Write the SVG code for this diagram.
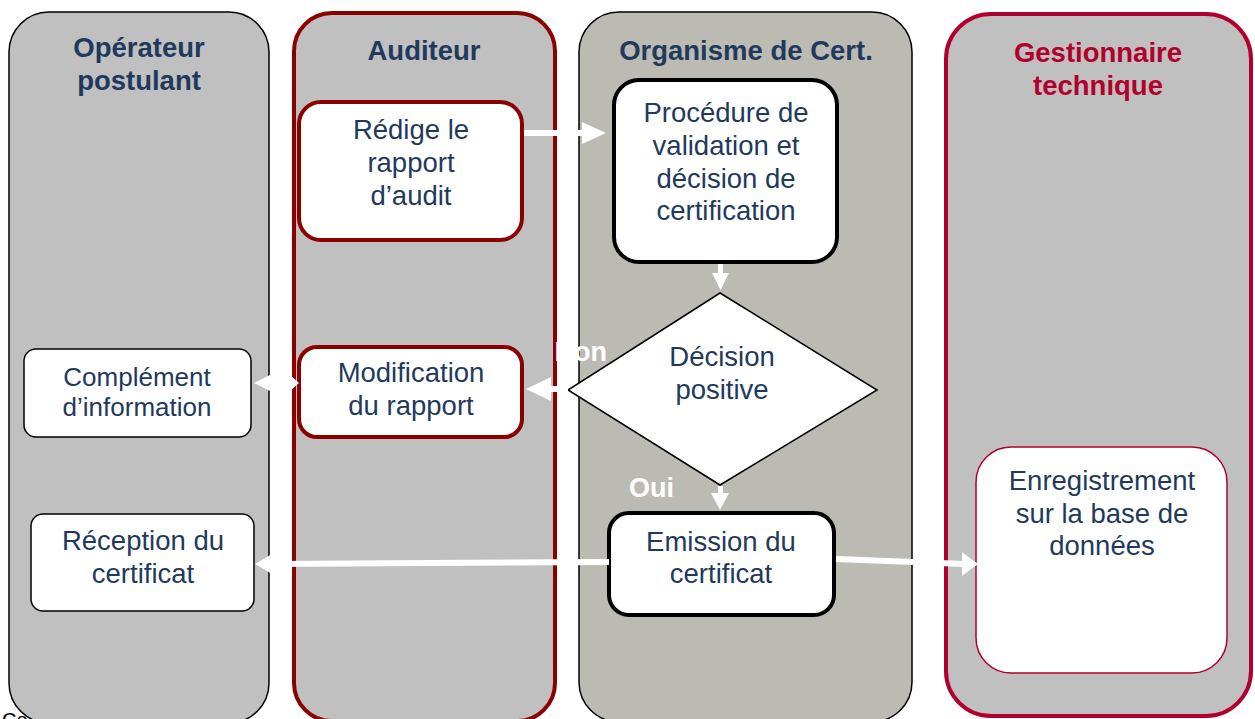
<svg xmlns="http://www.w3.org/2000/svg" width="1255" height="719" viewBox="0 0 1255 719">
  <style>
    .lane-grey { fill: #c0c0c0; }
    .lane-org { fill: #bcbbb3; }
    .b-black { stroke: #000000; stroke-width: 1.5; }
    .b-black-thick { stroke: #000000; stroke-width: 4; }
    .b-dred { stroke: #8b0000; stroke-width: 4; }
    .b-crim { stroke: #b2002c; stroke-width: 4; }
    .b-crim-thin { stroke: #b2002c; stroke-width: 1.5; }
    .node { fill: #ffffff; }
    .title { font-family: "Liberation Sans", Arial, sans-serif; font-size: 27.5px; font-weight: bold; fill: #1f3a5c; text-anchor: middle; }
    .title-red { fill: #b2002c; }
    .txt { font-family: "Liberation Sans", Arial, sans-serif; font-size: 27.5px; fill: #1f3a5c; text-anchor: middle; }
    .lbl { font-family: "Liberation Sans", Arial, sans-serif; font-size: 27px; font-weight: bold; fill: #ffffff; }
    .conn { stroke: #ffffff; fill: none; stroke-width: 6; }
    .head { fill: #ffffff; }
  </style>

  <text x="2" y="727" font-family="Liberation Sans, Arial, sans-serif" font-size="20" fill="#000000">Co</text>

  <g id="lane-operateur">
    <rect x="9" y="12" width="260" height="711" rx="40" ry="40" class="lane-grey b-black"/>
    <text class="title" x="139" y="57">Opérateur</text>
    <text class="title" x="139" y="90">postulant</text>
  </g>
  <g id="lane-auditeur">
    <rect x="294" y="13" width="261" height="708" rx="38" ry="38" class="lane-grey b-dred"/>
    <text class="title" x="424" y="60">Auditeur</text>
  </g>
  <g id="lane-organisme">
    <rect x="579" y="12" width="333" height="710" rx="40" ry="40" class="lane-org b-black"/>
    <text class="title" x="746" y="60">Organisme de Cert.</text>
  </g>
  <g id="lane-gestionnaire">
    <rect x="946" y="14" width="305" height="702" rx="45" ry="45" class="lane-grey b-crim"/>
    <text class="title title-red" x="1098" y="62">Gestionnaire</text>
    <text class="title title-red" x="1098" y="95">technique</text>
  </g>

  <g id="node-redige">
    <rect x="299" y="102" width="223" height="138" rx="22" ry="22" class="node b-dred"/>
    <text class="txt" x="411" y="139">Rédige le</text>
    <text class="txt" x="411" y="172">rapport</text>
    <text class="txt" x="411" y="205">d’audit</text>
  </g>
  <g id="node-procedure">
    <rect x="614" y="80" width="223" height="182" rx="25" ry="25" class="node b-black-thick"/>
    <text class="txt" x="726" y="122">Procédure de</text>
    <text class="txt" x="726" y="155">validation et</text>
    <text class="txt" x="726" y="188">décision de</text>
    <text class="txt" x="726" y="220">certification</text>
  </g>
  <g id="node-decision">
    <polygon points="720,293 877,390 720,485 568,390" class="node b-black"/>
    <text class="txt" x="722" y="366">Décision</text>
    <text class="txt" x="722" y="399">positive</text>
  </g>
  <g id="node-modification">
    <rect x="299" y="347" width="223" height="90" rx="18" ry="18" class="node b-dred"/>
    <text class="txt" x="411" y="382">Modification</text>
    <text class="txt" x="411" y="415">du rapport</text>
  </g>
  <g id="node-complement">
    <rect x="24" y="349" width="227" height="88" rx="12" ry="12" class="node b-black"/>
    <text class="txt" x="137" y="386" style="font-size:26px">Complément</text>
    <text class="txt" x="137" y="416" style="font-size:26px">d’information</text>
  </g>
  <g id="node-reception">
    <rect x="31" y="514" width="223" height="97" rx="12" ry="12" class="node b-black"/>
    <text class="txt" x="143" y="550">Réception du</text>
    <text class="txt" x="143" y="583">certificat</text>
  </g>
  <g id="node-emission">
    <rect x="609" y="513" width="225" height="102" rx="20" ry="20" class="node b-black-thick"/>
    <text class="txt" x="721" y="551">Emission du</text>
    <text class="txt" x="721" y="583">certificat</text>
  </g>
  <g id="node-enregistrement">
    <rect x="976" y="447" width="251" height="226" rx="35" ry="35" class="node b-crim-thin"/>
    <text class="txt" x="1102" y="490">Enregistrement</text>
    <text class="txt" x="1102" y="523">sur la base de</text>
    <text class="txt" x="1102" y="555">données</text>
  </g>

  <g id="connectors">
    <line x1="524" y1="133" x2="584" y2="133" class="conn"/>
    <polygon points="582,122 606,133 582,144" class="head"/>

    <line x1="720.5" y1="264" x2="720.5" y2="275" class="conn" style="stroke-width:5"/>
    <polygon points="712,273 729,273 720.5,290" class="head"/>

    <line x1="568" y1="389" x2="548" y2="389" class="conn"/>
    <polygon points="551,377 526,389 551,401" class="head"/>

    <line x1="268" y1="383" x2="291" y2="383" class="conn" style="stroke-width:5"/>
    <polygon points="270,375 254,383 270,391" class="head"/>
    <polygon points="290,375 299,383 290,391" class="head"/>

    <line x1="720.5" y1="486" x2="720.5" y2="495" class="conn" style="stroke-width:5"/>
    <polygon points="711,493 729,493 720,510" class="head"/>

    <line x1="609" y1="562" x2="270" y2="564" class="conn"/>
    <polygon points="272,554 255,564 272,574" class="head"/>

    <line x1="836" y1="559" x2="964" y2="564" class="conn"/>
    <polygon points="962,552 978,564 962,576" class="head"/>

    <text class="lbl" x="607" y="361" text-anchor="end">Non</text>
    <text class="lbl" x="629" y="497">Oui</text>
  </g>
</svg>
